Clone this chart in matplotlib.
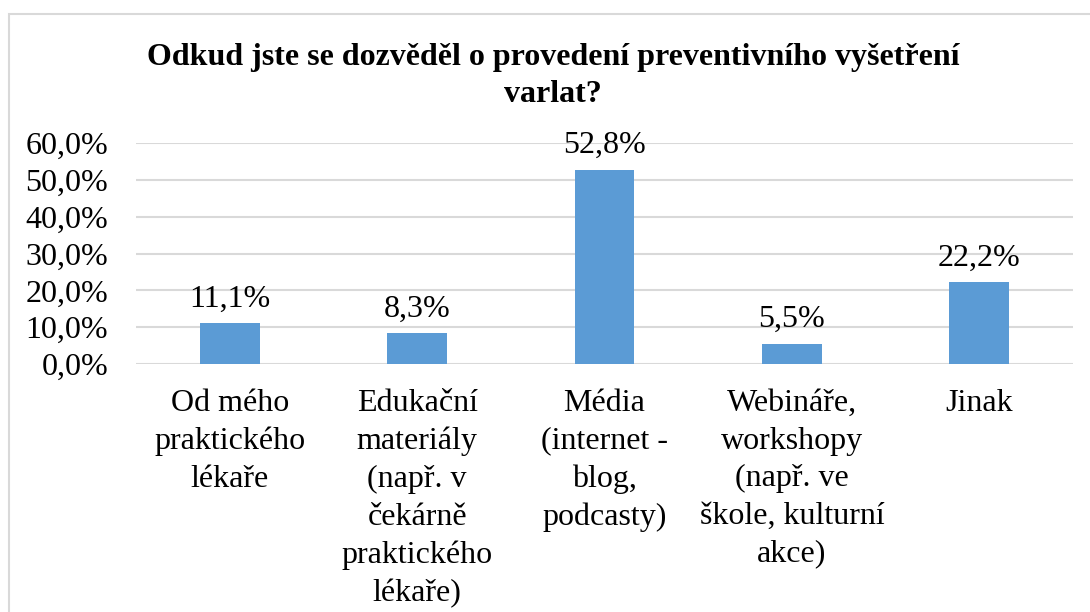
import matplotlib
matplotlib.use('Agg')
import matplotlib.pyplot as plt
from matplotlib.patches import Rectangle
from matplotlib.ticker import FuncFormatter

plt.rcParams['font.family'] = ['Liberation Serif', 'DejaVu Serif']

categories = [
    'Od mého\npraktického\nlékaře',
    'Edukační\nmateriály\n(např. v\nčekárně\npraktického\nlékaře)',
    'Média\n(internet -\nblog,\npodcasty)',
    'Webináře,\nworkshopy\n(např. ve\nškole, kulturní\nakce)',
    'Jinak',
]
values = [0.111, 0.083, 0.528, 0.055, 0.222]
value_labels = ['11,1%', '8,3%', '52,8%', '5,5%', '22,2%']
yticks = [0.0, 0.1, 0.2, 0.3, 0.4, 0.5, 0.6]

W, H = 1090, 612
fig = plt.figure(figsize=(W / 100, H / 100), dpi=100)
fig.patch.set_facecolor('white')

# light outer frame like the Excel chart area
fig.patches.append(Rectangle((8.5 / W, -0.1), 1.2, 1 - 13.5 / H + 0.1,
                             transform=fig.transFigure, fill=False,
                             edgecolor='#D9D9D9', linewidth=1.5))

ax = fig.add_axes([136 / W, 1 - 364 / H, (1073 - 136) / W, (364 - 143) / H])
x = range(len(categories))
bars = ax.bar(x, values, width=0.32, color='#5B9BD5', zorder=3)

ax.set_ylim(0, 0.6)
ax.set_xlim(-0.5, len(categories) - 0.5)
ax.set_yticks(yticks)
ax.yaxis.set_major_formatter(FuncFormatter(lambda v, p: f'{v * 100:.1f}%'.replace('.', ',')))
ax.grid(axis='y', color='#D9D9D9', linewidth=1.5, zorder=0)
for s in ax.spines.values():
    s.set_visible(False)
ax.tick_params(axis='both', length=0, labelsize=23)
ax.tick_params(axis='y', pad=20)
ax.tick_params(axis='x', pad=18)
ax.set_xticks(list(x))
ax.set_xticklabels(categories, linespacing=1.39, va='top')

for b, lab in zip(bars, value_labels):
    ax.annotate(lab, (b.get_x() + b.get_width() / 2, b.get_height()),
                xytext=(0, 7), textcoords='offset points',
                ha='center', va='bottom', fontsize=23)

fig.text(553 / W, 1 - 76 / H, 'Odkud jste se dozvěděl o provedení preventivního vyšetření\nvarlat?',
         ha='center', va='center', fontsize=23, fontweight='bold', linespacing=1.4)

fig.savefig('out.png', dpi=100, facecolor='white')
